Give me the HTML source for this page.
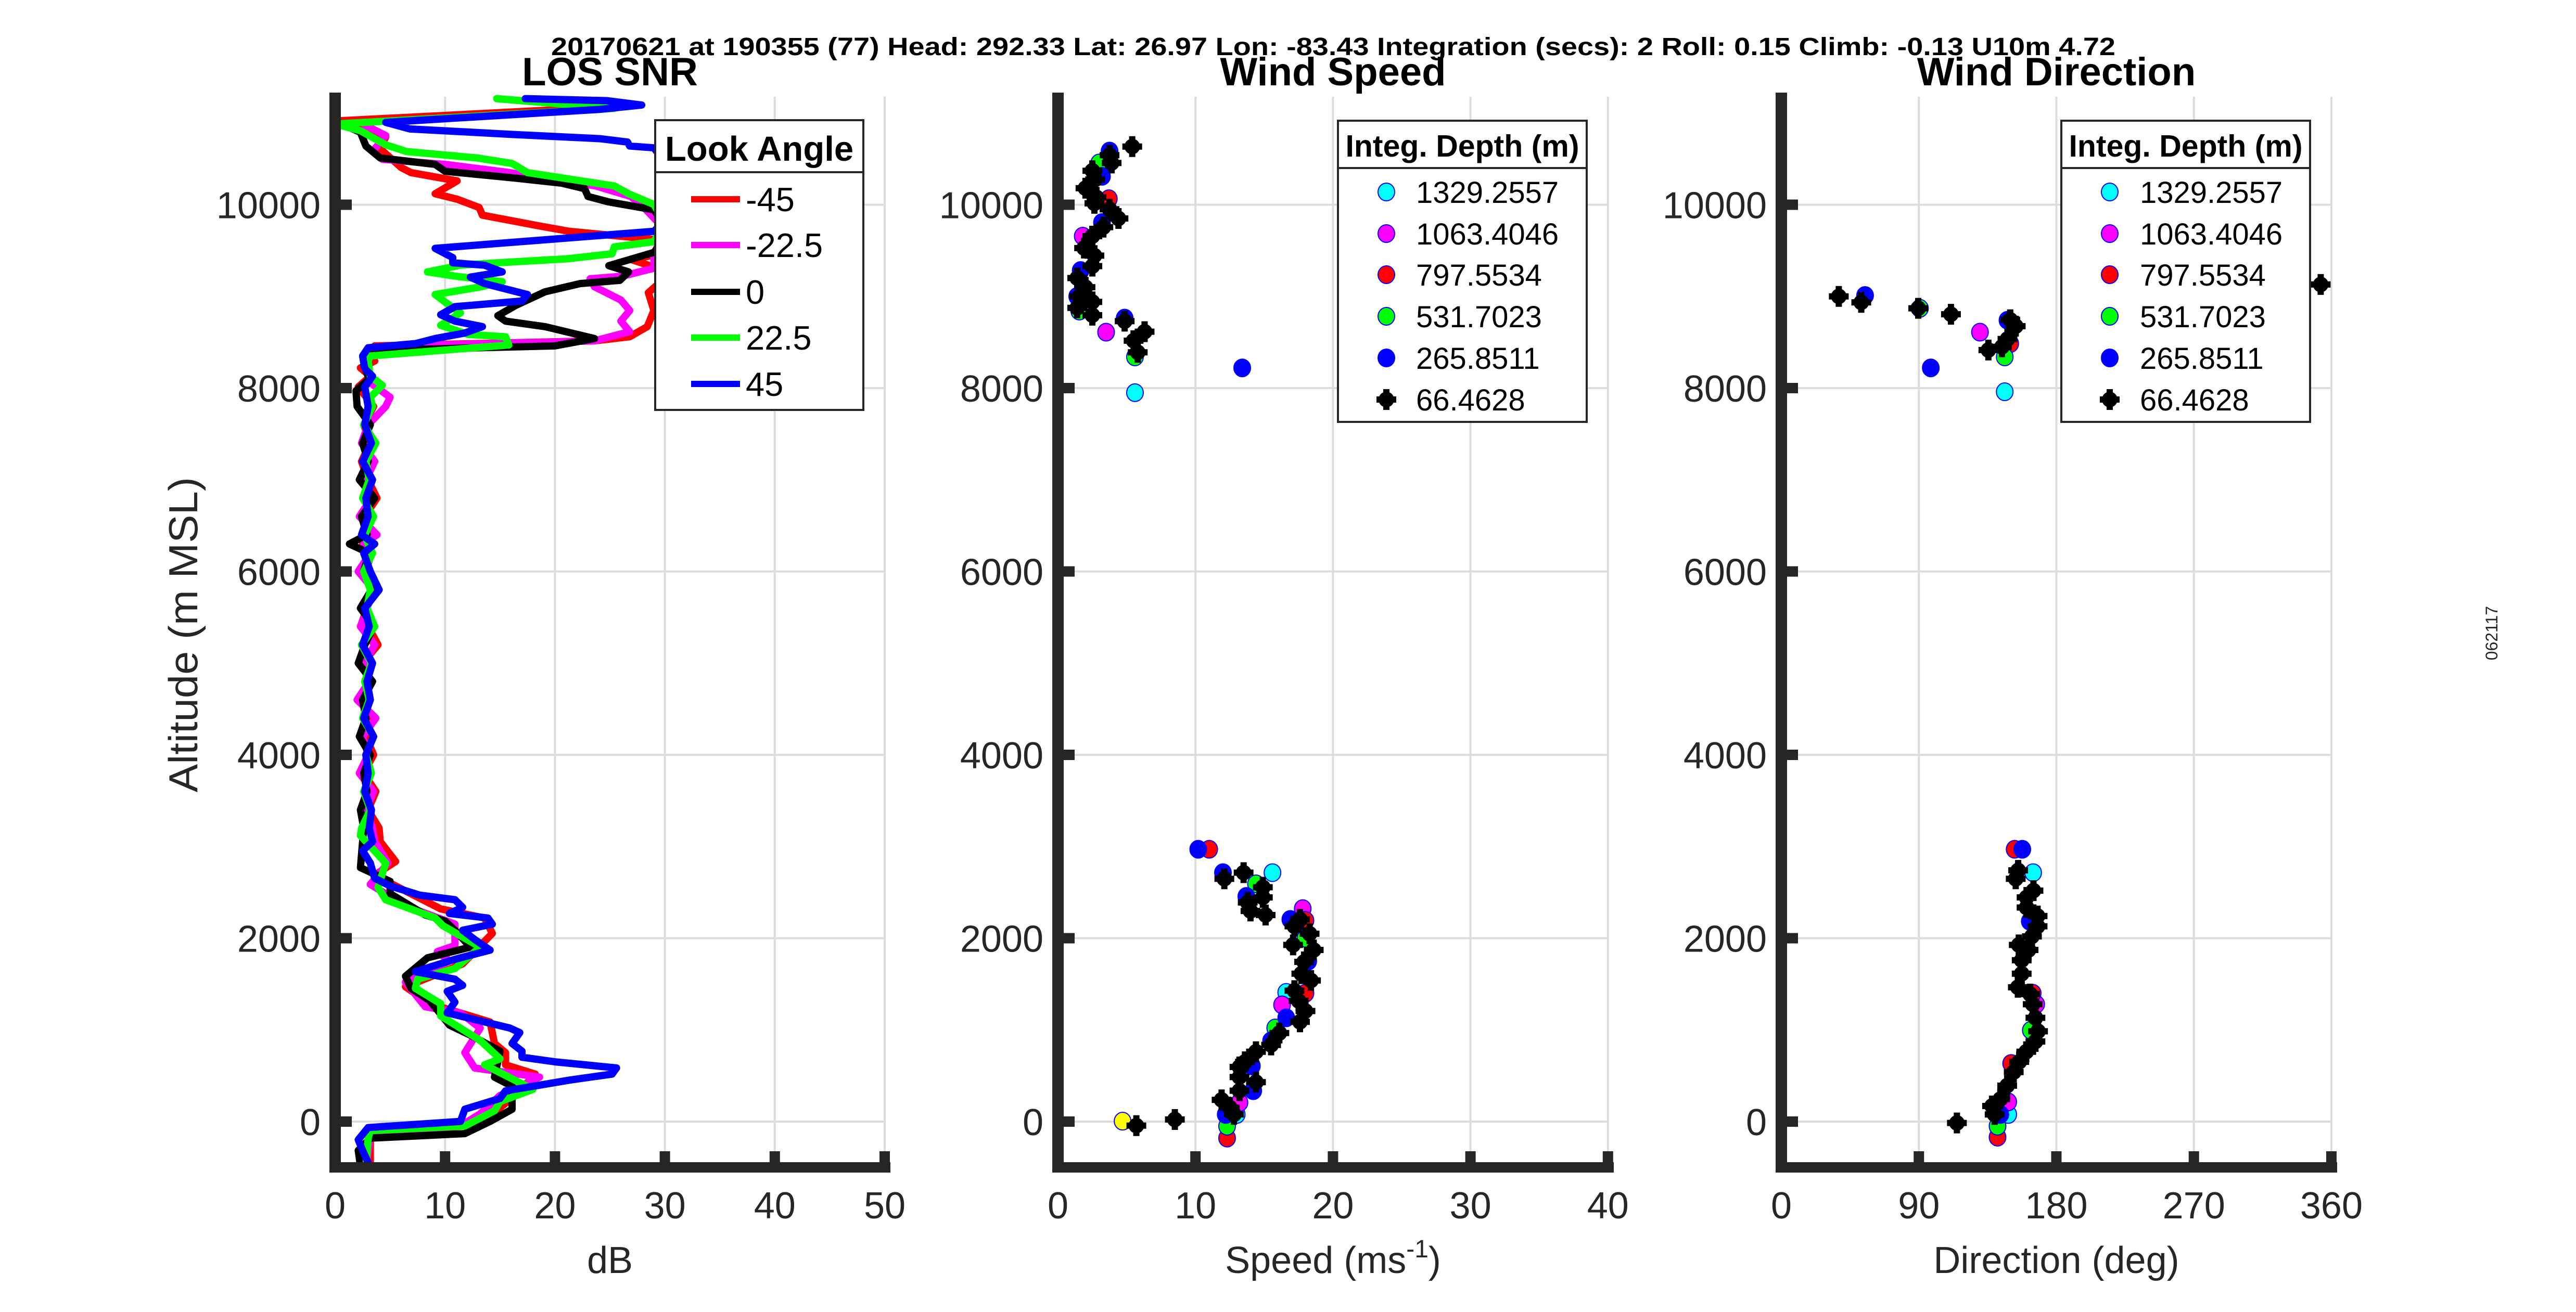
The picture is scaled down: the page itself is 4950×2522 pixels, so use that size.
<!DOCTYPE html>
<html><head><meta charset="utf-8"><style>
html,body{margin:0;padding:0;background:#fff;}
svg{display:block;font-family:"Liberation Sans",Arial,sans-serif;}
</style></head><body>
<svg id="fig" width="4950" height="2522" viewBox="0 0 4950 2522" xmlns="http://www.w3.org/2000/svg">
<rect width="4950" height="2522" fill="#fff"/>
<text x="1059" y="106" font-size="48" font-weight="bold" textLength="3006" lengthAdjust="spacingAndGlyphs" fill="#000">20170621 at 190355 (77)  Head: 292.33  Lat: 26.97  Lon: -83.43  Integration (secs): 2  Roll: 0.15  Climb: -0.13  U10m 4.72</text>
<text transform="translate(4799,1217) rotate(-90)" text-anchor="middle" font-size="32" fill="#262626">062117</text>
<text transform="translate(379,1220) rotate(-90)" text-anchor="middle" font-size="78" textLength="606" lengthAdjust="spacingAndGlyphs" fill="#262626">Altitude (m MSL)</text>
<g id="grid"></g><g id="marks"></g><g id="axes"></g><g id="legends"></g>
</svg>
<script>
// ---------- data ----------
const altTicks = [0,2000,4000,6000,8000,10000];
const snrTicks = [0,10,20,30,40,50];
const speedTicks = [0,10,20,30,40];
const dirTicks = [0,90,180,270,360];
const lookAngles = ['-45','-22.5','0','22.5','45'];
const depthLabels = ['1329.2557','1063.4046','797.5534','531.7023','265.8511','66.4628'];
const midAlts = [7800,7600,7400,7200,7000,6800,6600,6400,6300,6200,6000,5800,5600,5400,5200,5000,4800,4600,4400,4200,4000,3800,3600,3400,3200];

// SNR series: [altitude m, dB]
const snrTopM45 = [[11060,24.1],[10914,0.2],[10870,2.7],[10740,4.6],[10610,4.1],[10406,6.0],[10350,6.9],[10260,11.1],[10120,9.1],[10060,11.1],[9970,13.1],[9886,13.4],[9770,18.5],[9710,21.3],[9610,30],[9500,31],[9400,27],[9300,29.5],[9200,30],[9040,28.5],[8846,29],[8670,28.4],[8560,26.8],[8515,23.6],[8460,3.6],[8350,3.2],[8295,3.6],[8220,2.3],[8130,3.2],[8012,2.1]];
const snrMidM45 = [3.5,2.6,3.2,2.4,3.0,3.8,2.7,3.1,2.5,3.3,2.8,3.6,2.6,3.0,3.9,2.5,3.2,2.4,3.4,2.8,3.5,2.6,3.7,3.0,4.0];
const snrLowM45 = [[3054,4.1],[2837,5.5],[2687,3.6],[2320,9.6],[2220,13.6],[2053,14.3],[1720,11.6],[1470,6.4],[1286,8.6],[1086,14.1],[852,14.5],[752,15.5],[619,15.5],[518,18.2],[285,16.4],[152,15.0],[-15,13.6],[-181,3.2],[-315,3.2],[-500,3.2]];

const snrTopM22 = [[10870,2.7],[10754,4.6],[10580,3.4],[10495,4.3],[10437,10.2],[10350,15.9],[10205,23.7],[10090,26.9],[9944,28.3],[9830,29.2],[9757,30],[9600,29.5],[9450,29],[9307,29],[9220,26.1],[9192,23.2],[9105,23.6],[8960,26.0],[8846,26.8],[8730,26.0],[8615,26.8],[8515,23.6],[8470,9.1],[8410,3.2],[8200,2.8],[8050,3.3],[7900,5.0]];
const snrMidM22 = [4.6,3.0,2.4,3.6,2.8,3.3,2.2,3.8,2.6,3.2,2.1,3.5,2.9,2.3,3.6,2.7,3.1,2.0,3.7,2.5,3.0,2.2,3.5,2.8,3.4];
const snrLowM22 = [[3054,3.6],[2820,4.8],[2587,3.2],[2353,6.4],[2153,10.9],[1920,10.9],[1853,9.3],[1753,10.4],[1520,6.4],[1253,8.2],[1186,11.4],[1020,13.2],[752,11.8],[585,12.7],[485,18.6],[285,15.0],[85,13.2],[-48,11.4],[-148,3.2],[-500,2.8]];

const snrTop0 = [[10900,0.2],[10790,2.3],[10640,2.8],[10510,4.1],[10440,9.1],[10365,10.0],[10290,16.4],[10235,20.6],[10175,22.7],[10090,23.0],[10030,24.9],[9944,29],[9700,30.5],[9480,29],[9335,24.9],[9267,26.7],[9175,25.9],[9140,22.3],[9050,19.1],[8900,16.4],[8790,14.8],[8730,15.5],[8670,19.1],[8540,23.6],[8460,20.0],[8410,3.2],[8250,2.6],[8100,3.1],[7970,1.9]];
const snrMid0 = [2.0,3.2,2.5,3.0,2.2,3.6,2.4,2.9,1.3,3.1,2.6,3.3,2.3,3.5,2.7,2.1,3.4,2.5,2.8,2.2,3.2,2.6,2.9,2.3,2.6];
const snrLow0 = [[2770,2.3],[2620,5.0],[2487,5.0],[2254,8.2],[2187,10.0],[2087,10.9],[1903,12.3],[1786,8.4],[1586,6.4],[1453,6.9],[1320,8.6],[1053,10.4],[919,12.7],[769,15.0],[485,14.5],[385,16.1],[135,16.1],[2,14.1],[-131,11.8],[-181,3.2],[-315,2.1],[-484,2.3]];

const snrTopP22 = [[11157,14.7],[11050,25.4],[10880,0],[10807,2.3],[10653,4.6],[10580,6.5],[10510,12.9],[10450,16.1],[10350,17.5],[10205,25.4],[10120,26.7],[10003,29],[9800,30],[9597,29],[9540,25.4],[9465,25.2],[9410,21.1],[9366,14.7],[9340,11.4],[9267,8.4],[9220,11],[9160,15.2],[9105,13.3],[9020,9.1],[8930,10.1],[8820,11.4],[8685,9.6],[8585,12.1],[8560,15.5],[8470,15.8],[8350,3.2],[8295,3.0],[8130,3.2],[8030,4.3],[7900,3.2]];
const snrMidP22 = [3.4,2.6,3.7,2.8,3.1,2.5,3.5,2.7,3.0,3.4,2.6,3.2,2.9,3.6,2.4,3.3,2.7,3.1,2.5,3.5,2.8,3.3,2.6,3.2,2.4];
const snrLowP22 = [[3120,2.3],[2820,4.6],[2554,3.9],[2420,4.6],[2220,9.1],[2137,9.8],[1903,13.2],[1670,10.9],[1553,7.5],[1453,7.3],[1286,9.6],[1153,9.6],[885,13.2],[685,15.0],[619,13.6],[352,18.0],[218,15.0],[118,14.5],[-48,11.8],[-98,3.2],[-181,3.0],[-500,2.8]];

const snrTopP45 = [[11157,17.3],[11135,24.7],[11087,27.9],[11040,24.1],[10898,4.6],[10826,6.8],[10765,16.4],[10720,24.1],[10683,26.6],[10640,26.8],[10620,29],[10300,31],[10000,31.5],[9710,29],[9524,9.1],[9423,10.7],[9366,10.7],[9340,13.6],[9267,15.2],[9210,12.3],[9140,13.6],[9020,17.5],[8950,17.0],[8888,10.9],[8800,9.6],[8730,10.9],[8670,13.4],[8601,11.8],[8540,9.1],[8485,7.3],[8440,3.0],[8350,2.5],[8210,2.7],[8130,3.4],[8012,2.7]];
const snrMidP45 = [3.0,2.7,3.3,2.5,3.4,2.8,3.0,2.4,3.6,2.6,3.2,4.0,2.7,3.1,2.5,3.4,2.9,3.2,2.6,3.5,2.8,3.0,2.7,3.3,3.1];
const snrLowP45 = [[3154,3.2],[3054,3.4],[2954,2.5],[2820,3.2],[2654,3.6],[2570,5.0],[2470,7.7],[2420,10.9],[2337,11.6],[2270,10.4],[2220,13.9],[2153,14.3],[2087,11.6],[1986,12.7],[1870,14.1],[1770,10.9],[1636,7.3],[1553,10.9],[1486,11.6],[1420,10.2],[1303,10.9],[1186,10.2],[1020,15.9],[970,16.8],[852,16.1],[769,17.0],[702,17.0],[652,20.0],[585,25.6],[518,25.2],[452,21.3],[335,15.5],[252,15.0],[135,11.8],[2,11.4],[-65,3.0],[-198,2.1],[-315,2.5],[-500,3.2]];

// Wind speed: [speed m/s, altitude m]
const spdCyan = [[5.6,7950],[15.6,2715],[16.6,1409],[13.0,78]];
const spdMagenta = [[1.8,9657],[3.5,8610],[17.8,2323],[16.3,1273],[13.2,208]];
const spdRed = [[3.7,10065],[11.0,2970],[18.0,2194],[18.0,1400],[12.3,-180]];
const spdGreen = [[3.0,10455],[1.55,8840],[5.6,8340],[14.4,2593],[18.0,2000],[15.8,1021],[12.3,-50]];
const spdBlue = [[3.75,10585],[3.2,10310],[3.2,9805],[1.65,9282],[1.4,9000],[4.85,8763],[13.4,8220],[10.2,2970],[12.0,2715],[13.7,2456],[16.9,2205],[18.2,1750],[16.6,1132],[15.5,881],[14.1,607],[14.2,337],[12.2,78]];
const spdBlack = [[5.4,10634],[3.9,10455],[3.75,10540],[2.5,10370],[2.7,10275],[2.0,10180],[2.8,10080],[2.65,10015],[3.75,9950],[4.4,9850],[3.3,9755],[2.5,9657],[1.9,9527],[2.65,9445],[2.5,9330],[1.4,9200],[2.0,9100],[1.55,9000],[2.5,8940],[1.4,8875],[2.5,8795],[4.85,8730],[6.3,8615],[5.5,8517],[5.8,8390],
 [12.1,2648],[13.5,2715],[14.9,2556],[14.9,2445],[13.8,2390],[14.0,2297],[15.1,2253],[17.2,2130],[17.6,2205],[18.3,2049],[17.1,1927],[18.6,1872],[17.9,1742],[17.7,1613],[18.4,1539],[17.2,1428],[17.5,1317],[18.0,1206],[17.6,1088],[16.1,966],[15.5,836],[14.4,762],[13.6,652],[13.2,596],[14.4,430],[13.2,486],[13.2,337],[11.9,237],[12.5,152],[12.8,78],[5.7,-44],[8.5,23]];
const spdYellow = [[4.7,5]];

// Wind direction: [deg, altitude m]
const dirCyan = [[146.2,7960],[164.8,2715],[148.5,78]];
const dirMagenta = [[130,8610],[166.8,1280],[148.5,215]];
const dirRed = [[149.8,8485],[152.7,2970],[164.5,1400],[150.4,634],[141.5,-170]];
const dirGreen = [[90.7,8870],[146.2,8340],[163.3,996],[141.5,-50]];
const dirBlue = [[54.8,9010],[148,8740],[97.8,8220],[157.7,2970],[162.6,2185],[143.3,78]];
const dirBlack = [[37.6,9000],[52.3,8935],[89.6,8870],[111,8805],[149.8,8745],[153.4,8675],[148,8535],[144.4,8450],[135.5,8415],[353,9130],
 [155,2740],[153.4,2648],[165,2519],[160.5,2445],[160.5,2335],[167.7,2242],[167.7,2130],[164,2020],[155.4,1927],[161.8,1872],[157.3,1760],[157.3,1613],[154.8,1465],[162.8,1391],[164.5,1280],[166.3,1132],[168,985],[166.3,874],[160.3,762],[155.7,652],[152.1,540],[147.8,392],[143.3,245],[137.9,170],[139.6,78],[114.9,-15]];

// ---------- scales ----------
const Y0 = 2156, YK = 0.17625;
function yA(a){ return Y0 - a*YK; }
const panels = [
 {key:'snr', x0:644, k:21.12, ticks:snrTicks, right:1700, spineR:1711, label:'dB', title:'LOS SNR'},
 {key:'speed', x0:2033, k:26.42, ticks:speedTicks, right:3090, spineR:3101, label:'Speed', title:'Wind Speed'},
 {key:'dir', x0:3423, k:2.936, ticks:dirTicks, right:4480, spineR:4491, label:'Direction (deg)', title:'Wind Direction'}
];
function xS(p,v){ return p.x0 + v*p.k; }
const NS='http://www.w3.org/2000/svg';
function mk(tag, attrs, parent){ const e=document.createElementNS(NS,tag); for(const k in attrs) e.setAttribute(k, attrs[k]); parent.appendChild(e); return e; }
const G=document.getElementById('grid'), M=document.getElementById('marks'), A=document.getElementById('axes'), L=document.getElementById('legends');
const TOP=178, BOT=2244;

panels.forEach(p=>{
  p.ticks.forEach((t,i)=>{ if(i===0) return;
    const gl=mk('line',{x1:xS(p,t),x2:xS(p,t),y1:TOP+8,y2:BOT,stroke:'#dcdcdc','stroke-width':4},G);
    
    
  });
  altTicks.forEach(a=>{
    const gl=mk('line',{x1:p.x0,x2:p.right,y1:yA(a),y2:yA(a),stroke:'#dcdcdc','stroke-width':4},G);
    
    
  });
  const ls=mk('rect',{x:p.x0-11,y:TOP,width:22,height:BOT+10-TOP,fill:'#262626'},A);
  
  
  const bs=mk('rect',{x:p.x0-11,y:BOT-10,width:p.spineR-p.x0+11,height:20,fill:'#262626'},A);
  
  
  p.ticks.forEach((t,i)=>{
    const x=xS(p,t);
    if(i>0){ const tk=mk('rect',{x:x-10,y:BOT-31,width:20,height:22,fill:'#262626'},A);
      
       }
    const tl=mk('text',{x:x,y:2342,'text-anchor':'middle','font-size':72,fill:'#262626'},A);
    tl.textContent=String(t);
    
    
  });
  altTicks.forEach(a=>{
    const tk=mk('rect',{x:p.x0+11,y:yA(a)-10,width:21,height:20,fill:'#262626'},A);
    
    
    const tl=mk('text',{x:p.x0-28,y:yA(a)+26,'text-anchor':'end','font-size':72,fill:'#262626'},A);
    tl.textContent=String(a);
    
    
  });
  const cx=(p.x0+p.right)/2;
  const xl=mk('text',{x:cx,y:2447,'text-anchor':'middle','font-size':72,fill:'#262626'},A);
  
  
  if(p.key==='speed'){ xl.textContent='Speed (ms';
    const s1=mk('tspan',{dy:-30,'font-size':48},xl); s1.textContent='-1';
    const s2=mk('tspan',{dy:30},xl); s2.textContent=')';
  } else xl.textContent=p.label;
  const tt=mk('text',{x:cx,y:164,'text-anchor':'middle','font-size':76,'font-weight':'bold',fill:'#000'},A);
  tt.textContent=p.title;
  
  
});

// ---------- SNR lines ----------
const snrSeries = [
 {name:'-45', color:'#ff0000', top:snrTopM45, mid:snrMidM45, low:snrLowM45},
 {name:'-22.5', color:'#ff00ff', top:snrTopM22, mid:snrMidM22, low:snrLowM22},
 {name:'0', color:'#000000', top:snrTop0, mid:snrMid0, low:snrLow0},
 {name:'22.5', color:'#00ff00', top:snrTopP22, mid:snrMidP22, low:snrLowP22},
 {name:'45', color:'#0000ff', top:snrTopP45, mid:snrMidP45, low:snrLowP45}
];
const P0=panels[0];
snrSeries.forEach(s=>{
  const pts=[];
  s.top.forEach(d=>pts.push([d[0],d[1]]));
  midAlts.forEach((a,i)=>pts.push([a,s.mid[i]]));
  s.low.forEach(d=>pts.push([d[0],d[1]]));
  const str=pts.map(d=>xS(P0,d[1]).toFixed(1)+','+yA(d[0]).toFixed(1)).join(' ');
  const pl=mk('polyline',{points:str,fill:'none',stroke:s.color,'stroke-width':14,'stroke-linejoin':'round','stroke-linecap':'round'},M);
  
  
});

// ---------- scatter ----------
function dot(cx,cy,fill,parent,name){
  let e;
  if(fill==='#000000'){
    e=mk('g',{},parent);
    mk('circle',{cx:cx,cy:cy,r:15,fill:'#000'},e);
    mk('rect',{x:cx-6,y:cy-20,width:12,height:40,fill:'#000'},e);
    mk('rect',{x:cx-19,y:cy-6,width:38,height:12,fill:'#000'},e);
  } else {
    e=mk('ellipse',{cx:cx,cy:cy,rx:16,ry:17,fill:fill,stroke:'#0000ff','stroke-width':2},parent);
  }
  
  
}
const spdSets=[[spdCyan,'#00ffff','cyan'],[spdMagenta,'#ff00ff','magenta'],[spdRed,'#ff0000','red'],[spdGreen,'#00ff00','green'],[spdBlue,'#0000ff','blue'],[spdYellow,'#ffff00','yellow'],[spdBlack,'#000000','black']];
spdSets.forEach(s=>s[0].forEach(d=>dot(xS(panels[1],d[0]),yA(d[1]),s[1],M,'speed-point-'+s[2])));
const dirSets=[[dirCyan,'#00ffff','cyan'],[dirMagenta,'#ff00ff','magenta'],[dirRed,'#ff0000','red'],[dirGreen,'#00ff00','green'],[dirBlue,'#0000ff','blue'],[dirBlack,'#000000','black']];
dirSets.forEach(s=>s[0].forEach(d=>dot(xS(panels[2],d[0]),yA(d[1]),s[1],M,'direction-point-'+s[2])));

// ---------- legends ----------
function box(x,y,w,h,div,name){
  const b=mk('rect',{x:x,y:y,width:w,height:h,fill:'#fff',stroke:'#262626','stroke-width':4},L);
  
  
  mk('line',{x1:x,x2:x+w,y1:div,y2:div,stroke:'#262626','stroke-width':4},L);
}
box(1259,231,400,557,331,'look-angle-legend');
const lh=mk('text',{x:1459,y:309,'text-anchor':'middle','font-size':67,'font-weight':'bold',fill:'#000'},L);
lh.textContent='Look Angle';


const lyY=[383,471,561,649,738];
snrSeries.forEach((s,i)=>{
  const ln=mk('line',{x1:1328,x2:1422,y1:lyY[i],y2:lyY[i],stroke:s.color,'stroke-width':12},L);
  
  
  const t=mk('text',{x:1433,y:lyY[i]+23,'font-size':65,fill:'#000'},L);
  t.textContent=lookAngles[i];
  
  
});
const depthColors=['#00ffff','#ff00ff','#ff0000','#00ff00','#0000ff','#000000'];
const depY=[369,449,528,608,688,768];
[[2571,2664,2721,'speed'],[3961,4054,4112,'direction']].forEach(c=>{
  box(c[0],232,478,579,323,c[3]+'-depth-legend');
  const h=mk('text',{x:c[0]+239,y:301,'text-anchor':'middle','font-size':59,'font-weight':'bold',fill:'#000'},L);
  h.textContent='Integ. Depth (m)';
  
  
  depthLabels.forEach((lab,i)=>{
    dot(c[1],depY[i],depthColors[i],L,c[3]+'-legend-marker');
    const t=mk('text',{x:c[2],y:depY[i]+21,'font-size':58,fill:'#000'},L);
    t.textContent=lab;
    
    
  });
});
</script>
</body></html>
